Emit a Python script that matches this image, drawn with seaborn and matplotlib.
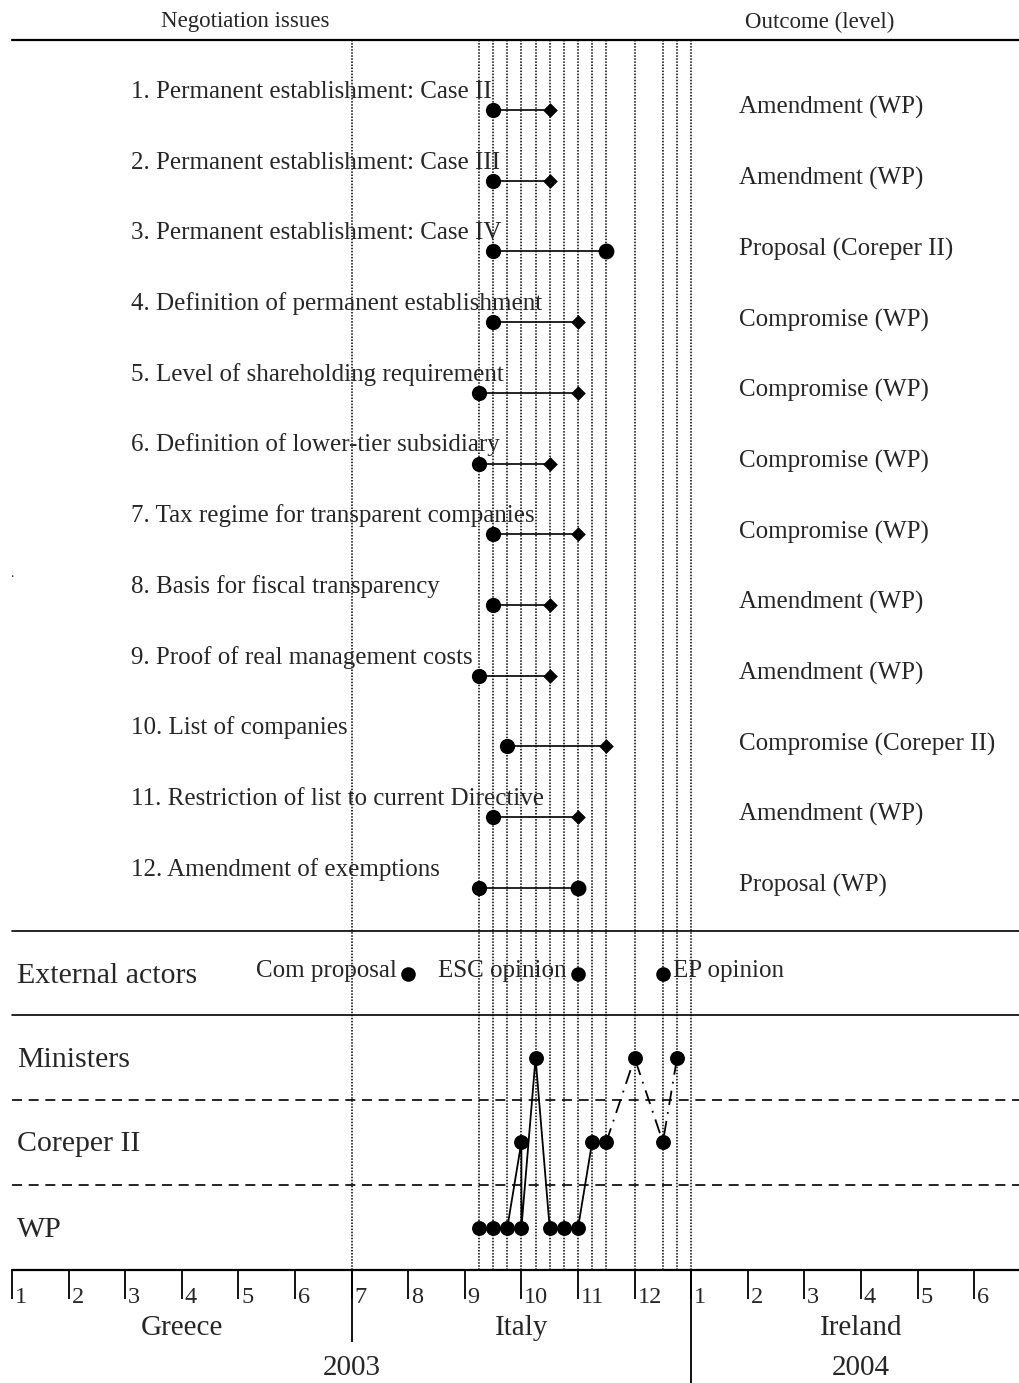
import numpy as np
import pandas as pd
import matplotlib
matplotlib.use("Agg")
import matplotlib.pyplot as plt
import seaborn as sns

# Negotiation issues and their outcomes
issues = ["1. Permanent establishment: Case II",
          "2. Permanent establishment: Case III",
          "3. Permanent establishment: Case IV",
          "4. Definition of permanent establishment",
          "5. Level of shareholding requirement",
          "6. Definition of lower-tier subsidiary",
          "7. Tax regime for transparent companies",
          "8. Basis for fiscal transparency",
          "9. Proof of real management costs",
          "10. List of companies",
          "11. Restriction of list to current Directive",
          "12. Amendment of exemptions"]
outcomes = ["Amendment (WP)", "Amendment (WP)", "Proposal (Coreper II)",
            "Compromise (WP)", "Compromise (WP)", "Compromise (WP)",
            "Compromise (WP)", "Amendment (WP)", "Amendment (WP)",
            "Compromise (Coreper II)", "Amendment (WP)", "Proposal (WP)"]
# months counted from 1 January 2003
issue_start = [8.5, 8.5, 8.5, 8.5, 8.25, 8.25, 8.5, 8.5, 8.25, 8.75, 8.5, 8.25]
issue_end = [9.5, 9.5, 10.5, 10.0, 10.0, 9.5, 10.0, 9.5, 9.5, 10.5, 10.0, 10.0]

# external actors
actors = ["Com proposal", "ESC opinion", "EP opinion"]
actor_dates = [7.0, 10.0, 11.5]

# meetings by level
level_dates = [8.25, 8.5, 8.75, 9.0, 9.0, 9.25, 9.5, 9.75, 10.0, 10.25,
               10.5, 11.0, 11.5, 11.75]
level_names = ["WP", "WP", "WP", "Coreper II", "WP", "Ministers", "WP", "WP",
               "WP", "Coreper II", "Coreper II", "Ministers", "Coreper II",
               "Ministers"]
solid_until = 10  # later meetings joined by dash-dot line

# presidencies and time axis
presidencies = ["Greece", "Italy", "Ireland"]
presidency_mid = [3, 9, 15]
presidency_bounds = [6, 12]
month_labels = [str(m) for m in range(1, 13)] + [str(m) for m in range(1, 7)]
years = ["2003", "2004"]
year_mid = [6, 15]

# layout (pixels)
W, H = 1019, 1383
X0, PX_PER_MONTH = 12, 56.6


def px(x):
    return (x - X0) / PX_PER_MONTH


row_y = 110 + 70.7 * np.arange(len(issues))
level_y = {"Ministers": 1058, "Coreper II": 1142, "WP": 1228}
actor_y = 974
axis_y = 1270

sns.set_theme(style="white")
plt.rcParams["font.family"] = ["Liberation Serif", "DejaVu Serif"]

fig = plt.figure(figsize=(W / 100, H / 100), dpi=100)
ax = fig.add_axes([0, 0, 1, 1])
ax.set_xlim(px(0), px(W))
ax.set_ylim(H, 0)
ax.axis("off")

# horizontal frame lines
x_frac = X0 / W
ax.axhline(40, xmin=x_frac, xmax=1, color="black", lw=1.6)
for yy in [931, 1015]:
    ax.axhline(yy, xmin=x_frac, xmax=1, color="black", lw=1.2)
for yy in [1100, 1185]:
    ax.axhline(yy, xmin=x_frac, xmax=1, color="black", lw=1.2,
               linestyle=(0, (6, 4)))
ax.axhline(axis_y, xmin=x_frac, xmax=1, color="black", lw=1.6)

# dotted meeting lines
dotted = sorted(set(level_dates) | set(presidency_bounds))
ax.vlines(dotted, 40, axis_y, colors="black", lw=1.1, linestyles=(0, (1, 1)))

# headers
ax.text(px(245), 22, "Negotiation issues", fontsize=16.5, ha="center",
        va="center")
ax.text(px(820), 22, "Outcome (level)", fontsize=16.5, ha="center",
        va="center")

# issue rows
ax.hlines(row_y, issue_start, issue_end, colors="black", lw=1.2)
rows = pd.DataFrame({"start": issue_start, "end": issue_end, "y": row_y,
                     "outcome": outcomes})
rows["kind"] = np.where(rows["outcome"].str.startswith("Proposal"),
                        "proposal", "other")
sns.scatterplot(data=rows, x="start", y="y", color="black", s=120,
                marker="o", linewidth=0, ax=ax, zorder=3)
sns.scatterplot(data=rows[rows["kind"] == "proposal"], x="end", y="y",
                color="black", s=130, marker="o", linewidth=0, ax=ax, zorder=3)
sns.scatterplot(data=rows[rows["kind"] == "other"], x="end", y="y",
                color="black", s=56, marker="D", linewidth=0, ax=ax, zorder=3)
for lab, out, yy in zip(issues, outcomes, row_y):
    ax.text(px(131), yy - 12, lab, fontsize=18, ha="left", va="baseline")
    ax.text(px(739), yy + 4, out, fontsize=18, ha="left", va="baseline")

ax.text(px(10), 577, ".", fontsize=10, ha="left", va="baseline")

# external actors
ax.text(px(17), 983, "External actors", fontsize=21.5, ha="left",
        va="baseline")
act = pd.DataFrame({"date": actor_dates, "y": actor_y, "actor": actors})
sns.scatterplot(data=act, x="date", y="y", color="black", s=110, marker="o",
                linewidth=0, ax=ax, zorder=3)
for name, d in zip(actors, actor_dates):
    if name == "EP opinion":
        ax.annotate(name, (d, actor_y), xytext=(7, 2), textcoords="offset points",
                    fontsize=18, ha="left", va="center")
    else:
        ax.annotate(name, (d, actor_y), xytext=(-8, 2),
                    textcoords="offset points", fontsize=18, ha="right",
                    va="center")

# levels
for name, yy in level_y.items():
    ax.text(px(17), yy + 2, name, fontsize=21.5, ha="left", va="center")
lev = pd.DataFrame({"date": level_dates,
                    "y": [level_y[n] for n in level_names]})
sns.lineplot(data=lev.iloc[:solid_until + 1], x="date", y="y", sort=False,
             estimator=None, color="black", lw=1.3, ax=ax)
sns.lineplot(data=lev.iloc[solid_until:], x="date", y="y", sort=False,
             estimator=None, color="black", lw=1.3, ax=ax,
             linestyle=(0, (8, 4, 1, 4)))
sns.scatterplot(data=lev, x="date", y="y", color="black", s=115, marker="o",
                linewidth=0, ax=ax, zorder=3)

# time axis
month_pos = np.arange(len(month_labels))
ax.vlines(month_pos, axis_y, 1299, colors="black", lw=1.3)
for m, lab in zip(month_pos, month_labels):
    ax.annotate(lab, (m, 1303), xytext=(2, 0), textcoords="offset points",
                fontsize=17.5, ha="left", va="baseline")
ax.vlines(presidency_bounds[0], axis_y, 1342, colors="black", lw=1.3)
ax.vlines(presidency_bounds[1], axis_y, H, colors="black", lw=1.3)
for name, m in zip(presidencies, presidency_mid):
    ax.text(m, 1328, name, fontsize=21, ha="center", va="center")
for name, m in zip(years, year_mid):
    ax.text(m, 1368, name, fontsize=21, ha="center", va="center")

ax.set_xlabel("")
ax.set_ylabel("")
fig.savefig("out.png", dpi=100)
